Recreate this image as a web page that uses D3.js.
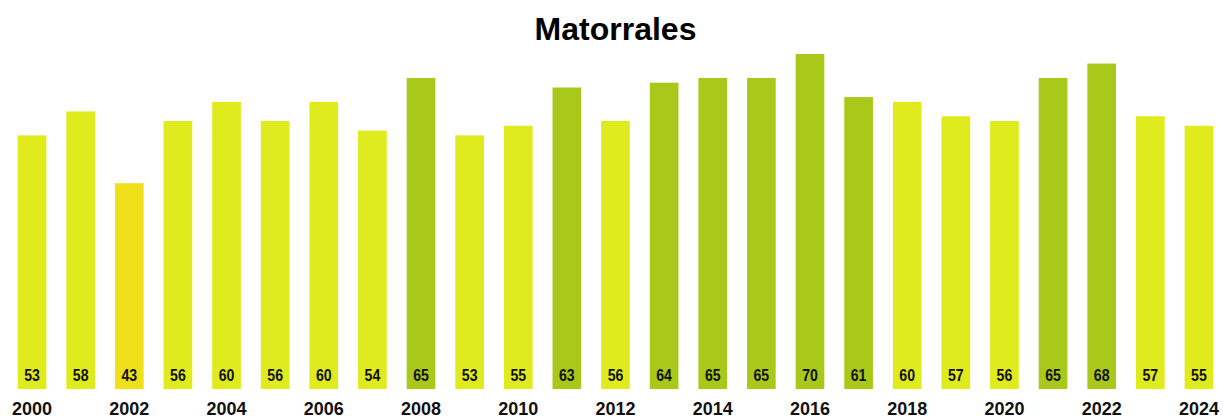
<html lang="es">
<head>
<meta charset="UTF-8">
<title>Matorrales</title>
<script src="https://cdn.jsdelivr.net/npm/d3@7/dist/d3.min.js"></script>
<style>
    body { margin: 0; padding: 0; background: #fff; }
    text { font-family: "Liberation Sans", Arial, sans-serif; font-weight: bold; }
</style>
</head>
<body>
<svg width="1223" height="418"></svg>
<script>
var years = ['2000','2001','2002','2003','2004','2005','2006','2007','2008','2009','2010','2011','2012',
             '2013','2014','2015','2016','2017','2018','2019','2020','2021','2022','2023','2024']
var values = [53, 58, 43, 56, 60, 56, 60, 54, 65, 53, 55, 63, 56, 64, 65, 65, 70, 61, 60, 57, 56, 65, 68, 57, 55]
var tickYears = ['2000','2002','2004','2006','2008','2010','2012','2014','2016','2018','2020','2022','2024']

var width = 1223, height = 418
var baseY = 389, topY = 54

var svg = d3.select('svg')

var x = d3.scaleBand()
    .domain(years)
    .range([8, 1223])
    .paddingInner(0.41)
    .paddingOuter(0.2)

var y = d3.scaleLinear()
    .domain([0, 70])
    .range([baseY, topY])

// colour by value class
var color = d3.scaleThreshold()
    .domain([45, 61])
    .range(['#f0e01a', '#e0eb1e', '#a9c91a'])

svg.append('text')
    .attr('x', 615.5)
    .attr('y', 40)
    .attr('text-anchor', 'middle')
    .style('font-size', '32px')
    .attr('fill', '#000')
    .text('Matorrales')

var bars = svg.selectAll('g.bar')
    .data(years)
    .enter()
    .append('g')
    .attr('class', 'bar')

bars.append('rect')
    .attr('x', d => x(d))
    .attr('width', x.bandwidth())
    .attr('y', (d, i) => y(values[i]))
    .attr('height', (d, i) => baseY - y(values[i]))
    .attr('fill', (d, i) => color(values[i]))

// narrow-looking labels: squeeze horizontally
bars.append('text')
    .attr('transform', d => 'translate(' + (x(d) + x.bandwidth() / 2) + ',381) scale(0.83,1)')
    .attr('text-anchor', 'middle')
    .style('font-size', '17px')
    .attr('fill', '#111')
    .text((d, i) => values[i])

var axis = d3.axisBottom(x)
    .tickValues(tickYears)
    .tickSize(0)
    .tickPadding(0)

var ax = svg.append('g')
    .attr('transform', 'translate(0,' + 402 + ')')
    .call(axis)

ax.select('.domain').remove()
ax.selectAll('text')
    .attr('dy', '0.71em')
    .attr('y', 0)
    .style('font-size', '18px')
    .style('font-family', '"Liberation Sans", Arial, sans-serif')
    .style('font-weight', 'bold')
    .attr('fill', '#111')
</script>
</body>
</html>
